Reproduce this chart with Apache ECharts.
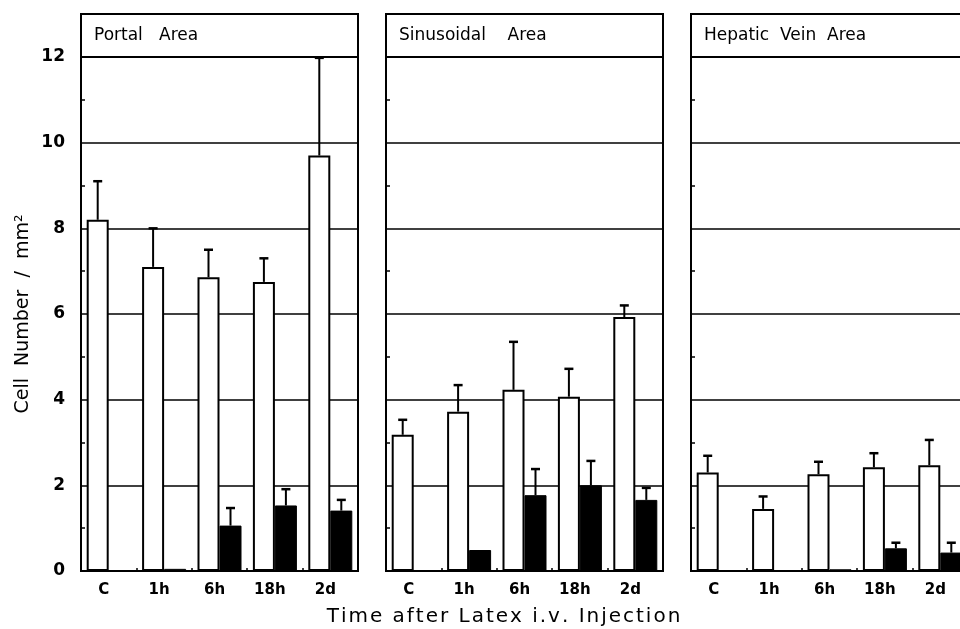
<!DOCTYPE html>
<html>
<head>
<meta charset="utf-8">
<script src="https://cdn.jsdelivr.net/npm/echarts@6/dist/echarts.min.js"></script>
<style>
  html, body { margin: 0; padding: 0; background: #fff; }
  #main { width: 960px; height: 629px; }
</style>
</head>
<body>
<div id="main"></div>
<script>
// categories and panel names
var cats = ['C', '1h', '6h', '18h', '2d'];
var panelNames = ['Portal   Area', 'Sinusoidal    Area', 'Hepatic  Vein  Area'];

// Portal area: open bars / filled bars, with top of error bar
var portalOpen = [8.2, 7.1, 6.86, 6.75, 9.7];
var portalOpenErr = [9.1, 8.0, 7.5, 7.3, 11.98];
var portalFilled = [0, 0.05, 1.06, 1.53, 1.41];
var portalFilledErr = [0, 0.05, 1.47, 1.91, 1.66];

// Sinusoidal area
var sinusOpen = [3.18, 3.72, 4.23, 4.07, 5.93];
var sinusOpenErr = [3.53, 4.34, 5.35, 4.72, 6.2];
var sinusFilled = [0, 0.49, 1.77, 2.0, 1.66];
var sinusFilledErr = [0, 0.49, 2.38, 2.57, 1.94];

// Hepatic vein area
var hepOpen = [2.3, 1.45, 2.26, 2.42, 2.47];
var hepOpenErr = [2.69, 1.74, 2.55, 2.75, 3.06];
var hepFilled = [0, 0, 0.04, 0.53, 0.43];
var hepFilledErr = [0, 0, 0.04, 0.66, 0.66];

// y axis
var yMin = 0, yMax = 12, yStep = 2;

var openSets = [portalOpen, sinusOpen, hepOpen];
var openErrSets = [portalOpenErr, sinusOpenErr, hepOpenErr];
var filledSets = [portalFilled, sinusFilled, hepFilled];
var filledErrSets = [portalFilledErr, sinusFilledErr, hepFilledErr];

// layout
var panelLeft = [81, 386, 691];
var panelW = 277, plotTop = 57, plotH = 514, boxTop = 14;
var barW = 22;
var font = 'DejaVu Sans';

function errRender(offset) {
    return function (params, api) {
        var x = api.value(0);
        if (api.value(2) <= api.value(1)) return;
        var lo = api.coord([x, api.value(1)]);
        var hi = api.coord([x, api.value(2)]);
        var cx = lo[0] + offset;
        return {
            type: 'group',
            children: [
                {type: 'line', shape: {x1: cx, y1: lo[1], x2: cx, y2: hi[1]}, style: {stroke: '#000', lineWidth: 2}},
                {type: 'line', shape: {x1: cx - 4.5, y1: hi[1], x2: cx + 4.5, y2: hi[1]}, style: {stroke: '#000', lineWidth: 2.5}}
            ]
        };
    };
}

var grids = [], xAxes = [], yAxes = [], series = [], graphics = [];

for (var p = 0; p < 3; p++) {
    grids.push({
        left: panelLeft[p], top: plotTop, width: panelW, height: plotH,
        outerBoundsMode: 'none', containLabel: false,
        show: true, borderColor: '#000', borderWidth: 2, backgroundColor: 'transparent'
    });
    xAxes.push({
        gridIndex: p,
        type: 'category',
        data: cats,
        axisLine: {lineStyle: {color: '#000', width: 2}},
        axisTick: {show: true, inside: true, length: 3, lineStyle: {color: '#000', width: 1.5}},
        axisLabel: {color: '#000', fontFamily: font, fontWeight: 'bold', fontSize: 15, margin: 12, padding: [0, 10, 0, 0]},
        name: p === 1 ? 'Time after Latex i.v. Injection'.split('').join('\u200A') : '',
        nameLocation: 'middle',
        nameGap: 36,
        nameTextStyle: {color: '#000', fontFamily: font, fontSize: 20, padding: [0, 42, 0, 0]}
    });
    yAxes.push({
        gridIndex: p,
        type: 'value',
        min: yMin, max: yMax, interval: yStep,
        axisLine: {show: true, lineStyle: {color: '#000', width: 2}},
        axisTick: {show: false, inside: true},
        minorTick: {show: true, splitNumber: 2, length: 4, lineStyle: {color: '#000', width: 1.5}},
        splitLine: {show: true, lineStyle: {color: '#000', width: 1.5}},
        axisLabel: {show: p === 0, color: '#000', fontFamily: font, fontWeight: 'bold', fontSize: 17, margin: 16},
        name: p === 0 ? 'Cell  Number  /  mm\u00B2' : '',
        nameLocation: 'middle',
        nameGap: 48,
        nameRotate: 90,
        nameTextStyle: {color: '#000', fontFamily: font, fontSize: 19}
    });
    series.push({
        type: 'bar', xAxisIndex: p, yAxisIndex: p,
        data: openSets[p], barWidth: barW, barGap: '0%',
        itemStyle: {color: '#fff', borderColor: '#000', borderWidth: 2}
    });
    series.push({
        type: 'bar', xAxisIndex: p, yAxisIndex: p,
        data: filledSets[p], barWidth: barW, barGap: '0%',
        itemStyle: {color: '#000', borderColor: '#000', borderWidth: 1}
    });
    series.push({
        type: 'custom', xAxisIndex: p, yAxisIndex: p, z: 5,
        renderItem: errRender(-barW / 2),
        data: cats.map(function (c, i) { return [i, openSets[p][i], openErrSets[p][i]]; })
    });
    series.push({
        type: 'custom', xAxisIndex: p, yAxisIndex: p, z: 5,
        renderItem: errRender(barW / 2),
        data: cats.map(function (c, i) { return [i, filledSets[p][i], filledErrSets[p][i]]; })
    });
    // title box above each panel
    graphics.push({
        type: 'rect',
        shape: {x: panelLeft[p], y: boxTop, width: panelW, height: plotTop - boxTop},
        style: {fill: '#fff', stroke: '#000', lineWidth: 2}
    });
    graphics.push({
        type: 'text',
        x: panelLeft[p] + 13, y: (boxTop + plotTop) / 2,
        style: {text: panelNames[p], fill: '#000', font: '17px "' + font + '"', textVerticalAlign: 'middle'}
    });
}

var myChart = echarts.init(document.getElementById('main'));
myChart.setOption({
    animation: false,
    backgroundColor: '#fff',
    grid: grids,
    xAxis: xAxes,
    yAxis: yAxes,
    series: series,
    graphic: graphics
});
</script>
</body>
</html>
